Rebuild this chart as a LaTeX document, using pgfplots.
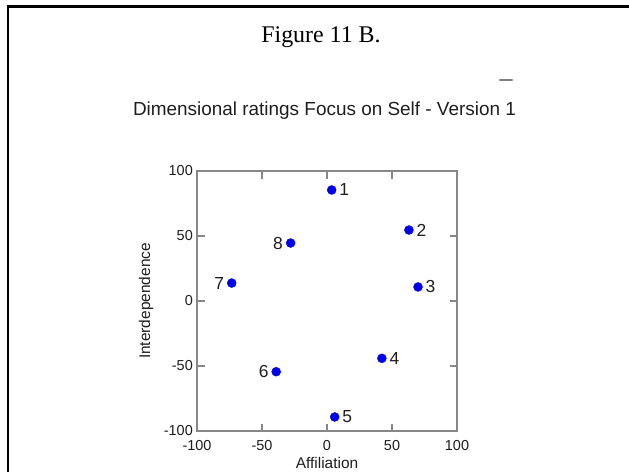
\documentclass[border=0pt]{standalone}
\usepackage{pgfplots}
\pgfplotsset{compat=1.18}
\usepackage{fontspec}
\setmainfont{Liberation Sans}
\newfontfamily\timesfont{Liberation Serif}
\definecolor{dotblue}{RGB}{0,0,235}
\definecolor{axisgray}{RGB}{135,135,135}
\definecolor{txt}{RGB}{30,30,30}

\pgfplotstableread{
x y lab
3.6 85.4 1
63.0 54.6 2
70.0 10.8 3
42.2 -44.1 4
5.9 -89.2 5
}\rightpts
\pgfplotstableread{
x y lab
-39.1 -54.4 6
-73.3 13.8 7
-28.0 44.6 8
}\leftpts

\begin{document}
\begin{tikzpicture}
\path[use as bounding box] (0bp,0bp) rectangle (629bp,-472bp);
% page frame (cut off at right and bottom)
\draw[line width=2.2bp] (8bp,-480bp) -- (8bp,-6.5bp) -- (640bp,-6.5bp);
\node[font=\timesfont\fontsize{24}{28}\selectfont, anchor=base] at (321bp,-42bp) {Figure 11 B.};
\node[font=\fontsize{19}{22}\selectfont, text=txt, anchor=base] at (324.5bp,-115bp) {Dimensional ratings Focus on Self - Version 1};
\draw[gray, line width=2.5bp, line cap=round] (500bp,-80bp) -- (512bp,-80bp);

\begin{axis}[
  at={(197bp,-431bp)}, anchor=south west,
  width=260bp, height=260bp, scale only axis,
  xmin=-100, xmax=100, ymin=-100, ymax=100,
  xtick={-100,-50,0,50,100}, ytick={-100,-50,0,50,100},
  xticklabels={-100,-50,0,50,100}, yticklabels={-100,-50,0,50,100},
  tick align=inside, major tick length=7.5bp,
  axis line style={axisgray, line width=1.2bp},
  tick style={axisgray, line width=1.2bp},
  tick label style={font=\fontsize{14.5}{16}\selectfont, text=txt, inner sep=0pt},
  xticklabel style={yshift=-9bp},
  yticklabel style={xshift=-4bp},
  xlabel={Affiliation}, ylabel={Interdependence},
  label style={font=\fontsize{15.5}{18}\selectfont, text=txt},
  xlabel style={at={(axis description cs:0.5,-0.123)}, anchor=center},
  ylabel style={at={(axis description cs:-0.196,0.5)}, anchor=center},
  clip=false,
]
\addplot[only marks, mark=*, mark size=4.5bp, color=dotblue,
  mark options={draw=dotblue, fill=dotblue},
  nodes near coords, point meta=explicit symbolic,
  every node near coord/.append style={anchor=west, xshift=7.5bp, inner sep=0pt,
    text=txt, font=\fontsize{17.5}{20}\selectfont}]
  table[x=x, y=y, meta=lab] {\rightpts};
\addplot[only marks, mark=*, mark size=4.5bp, color=dotblue,
  mark options={draw=dotblue, fill=dotblue},
  nodes near coords, point meta=explicit symbolic,
  every node near coord/.append style={anchor=east, xshift=-7.5bp, inner sep=0pt,
    text=txt, font=\fontsize{17.5}{20}\selectfont}]
  table[x=x, y=y, meta=lab] {\leftpts};
\end{axis}
\end{tikzpicture}
\end{document}
